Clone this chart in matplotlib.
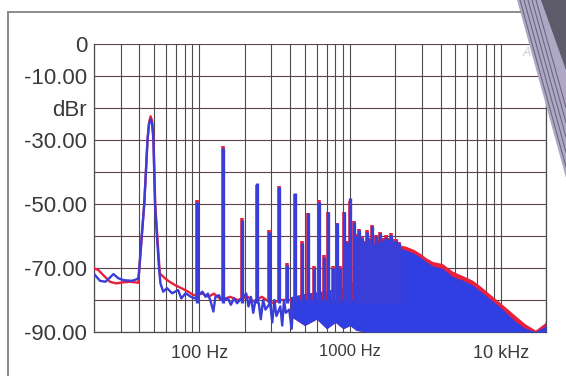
import matplotlib
matplotlib.use("Agg")
import matplotlib.pyplot as plt
from matplotlib.patches import Polygon

plt.rcParams['font.family'] = ['Liberation Sans', 'DejaVu Sans']

# low frequency part of the trace (Hz, dBr)
blue_lo_f = [20.3, 21.9, 23.8, 25.5, 26.9, 29.0, 31.5, 35.6, 38.0, 39.4,
             40.0, 41.5, 43.1, 44.2, 45.3, 46.4, 47.5, 48.6, 49.6, 50.2,
             50.8, 52.3, 54.0, 55.2, 57.6, 61.0, 66.0, 72.3, 76.0, 81.0,
             88.0, 93.0, 105, 110, 114, 119, 124, 128, 135, 140,
             155, 162, 170, 178, 186, 205, 212, 220, 228, 236,
             248, 256, 265, 275, 295, 305, 315, 325, 345, 355,
             365, 375, 395, 410, 420]
blue_lo_db = [-72.2, -74.0, -74.3, -73.0, -71.9, -73.2, -73.8, -74.0, -73.6, -73.2,
              -70.0, -60.0, -50.0, -40.0, -30.0, -25.0, -23.5, -25.0, -30.0, -40.0,
              -50.0, -60.0, -70.0, -74.8, -77.4, -76.3, -77.9, -76.9, -79.5, -77.9,
              -79.0, -79.5, -77.4, -79.0, -78.0, -80.5, -83.6, -79.0, -78.5, -80.0,
              -79.5, -81.5, -79.5, -81.0, -80.0, -78.0, -82.0, -79.0, -84.0, -80.0,
              -81.0, -86.0, -80.0, -83.0, -81.0, -87.0, -80.0, -85.0, -82.0, -88.0,
              -80.0, -84.0, -83.0, -89.0, -81.0]

red_lo_f = [20.0, 21.3, 23.6, 25.5, 28.0, 31.0, 34.6, 39.4, 40.0, 41.5,
            43.1, 44.2, 45.3, 46.4, 47.5, 48.6, 49.6, 50.3, 51.0, 52.6,
            54.7, 59.1, 63.5, 68.7, 76.1, 84.3, 92.0, 105, 115, 125,
            140, 160, 180, 210, 230, 260, 300, 350, 400]
red_lo_db = [-70.1, -70.6, -72.7, -74.3, -74.8, -74.5, -74.3, -74.6, -70.0, -60.0,
             -50.0, -40.0, -30.0, -24.5, -22.6, -24.0, -29.0, -40.0, -50.0, -60.0,
             -71.7, -73.2, -74.3, -75.3, -76.3, -77.4, -78.5, -78.0, -79.0, -78.0,
             -80.0, -79.0, -80.0, -79.0, -80.5, -79.0, -81.0, -80.0, -80.0]

# harmonics of the 48 Hz tone (n, blue level, red level)
harm_n = [2, 3, 4, 5, 6, 7, 8, 9, 10, 11, 12, 13, 14, 15, 16, 17, 18, 19, 20,
          21, 22, 23, 24, 25, 26, 27, 28, 29, 30, 31, 32, 33, 34, 35, 36, 37,
          38, 39, 40, 42, 44]
harm_blue = [-49.5, -32.5, -55.0, -43.5, -58.6, -44.6, -69.0, -46.7, -62.2, -52.7,
             -70.0, -49.5, -66.5, -52.6, -70.0, -56.0, -70.0, -52.6, -62.0,
             -48.2, -55.5, -60.0, -58.1, -60.7, -62.0, -58.6, -61.0, -57.0, -62.5,
             -60.0, -61.8, -59.2, -61.5, -61.0, -60.2, -61.0, -61.5, -59.7, -61.5,
             -61.3, -62.3]
harm_red = [-48.8, -32.0, -54.5, -44.0, -58.2, -44.4, -68.4, -47.0, -61.6, -52.8,
            -69.4, -48.8, -65.8, -52.6, -69.4, -55.8, -69.5, -52.4, -61.5,
            -49.0, -55.3, -59.5, -57.8, -60.3, -61.5, -58.2, -60.5, -56.6, -62.0,
            -59.6, -61.3, -58.8, -61.0, -60.5, -59.8, -60.5, -61.0, -59.2, -61.0,
            -60.8, -61.8]
fund = 48.0

# dense noise band above ~400 Hz
band_f = [400, 500, 600, 700, 800, 900, 1000, 1100, 1270, 1450, 1650, 1850, 2000,
          2350, 2650, 2900, 3200, 3550, 4100, 4800, 5600, 6500, 7400, 8400, 9800,
          11000, 12600, 14500, 17000, 19600, 20000]
band_blue = [-79.0, -78.0, -77.5, -77.0, -76.5, -76.0, -75.0, -73.0, -69.6, -68.0,
             -66.5, -64.5, -63.3, -64.4, -65.4, -66.5, -68.0, -69.4, -70.1, -72.7,
             -73.8, -75.3, -77.4, -79.5, -82.0, -84.2, -86.8, -88.8, -89.9, -88.3,
             -87.5]
band_red = [-79.0, -78.0, -77.5, -77.0, -76.5, -76.0, -75.0, -72.5, -69.0, -67.0,
            -65.5, -63.5, -62.5, -63.2, -64.2, -65.3, -66.8, -68.0, -68.6, -71.0,
            -72.4, -73.8, -75.8, -78.0, -80.6, -82.6, -85.0, -87.4, -89.4, -87.2,
            -86.0]
band_floor = [-85.0, -88.0, -86.0, -89.0, -87.0, -89.0, -88.0, -89.5, -90.0, -90.0,
              -90.0, -90.0, -90.0, -90.0, -90.0, -90.0, -90.0, -90.0, -90.0, -90.0,
              -90.0, -90.0, -90.0, -90.0, -90.0, -90.0, -90.0, -90.0, -90.0, -90.0,
              -90.0]

grid_f = [20, 30, 40, 50, 60, 70, 80, 90, 100, 200, 300, 400, 500, 600, 700, 800,
          900, 1000, 2000, 3000, 4000, 5000, 6000, 7000, 8000, 9000, 10000, 20000]
grid_db = [0, -10, -20, -30, -40, -50, -60, -70, -80, -90]
ytick_vals = [0, -10, -20, -30, -50, -70, -90]
ytick_labels = ["0", "-10.00", "dBr", "-30.00", "-50.00", "-70.00", "-90.00"]
xtick_vals = [100, 1000, 10000]
xtick_labels = ["100 Hz", "1000 Hz", "10 kHz"]

RED = '#e8203c'
BLUE = '#3a3ed8'
BLUE_FILL = '#2f3fe2'

fig = plt.figure(figsize=(5.66, 3.76), dpi=100)
ax = fig.add_axes([94 / 566, 1 - 332 / 376, 452 / 566, 288 / 376])

ax.set_xscale('log')
ax.set_xlim(20, 20000)
ax.set_ylim(-90, 0)

# grid
for f in grid_f:
    ax.axvline(f, color='#4c4c4c', lw=0.8, zorder=1)
for d in grid_db:
    ax.axhline(d, color='#5e4448', lw=0.8, zorder=1)

# noise band
ax.fill_between(band_f, band_floor, band_red, color=RED, lw=0, zorder=2)
ax.fill_between(band_f, band_floor, band_blue, color=BLUE_FILL, lw=0, zorder=3)

# low freq traces
ax.plot(red_lo_f, red_lo_db, color=RED, lw=1.7, zorder=4)
ax.plot(blue_lo_f, blue_lo_db, color=BLUE, lw=1.7, zorder=5)

# harmonics
harm_f = [fund * n for n in harm_n]
ax.vlines(harm_f, -80, harm_red, color=RED, lw=2.6, zorder=4)
ax.vlines(harm_f, -81, harm_blue, color=BLUE, lw=2.4, zorder=5)

ax.set_yticks(ytick_vals)
ax.set_yticklabels(ytick_labels, fontsize=16, color='#3a3a3a')
ax.set_xticks(xtick_vals)
ax.set_xticklabels(xtick_labels, color='#3a3a3a')
ax.minorticks_off()
for lab, fs in zip(ax.get_xticklabels(), [13, 12, 13]):
    lab.set_fontsize(fs)
ax.tick_params(axis='both', which='both', length=0)
ax.tick_params(axis='y', pad=5)
ax.tick_params(axis='x', pad=9)

for side in ['left', 'right', 'bottom']:
    ax.spines[side].set_color('#4c4c4c')
    ax.spines[side].set_linewidth(0.9)
ax.spines['top'].set_visible(False)

# panel frame and the device edge in the photo
over = fig.add_axes([0, 0, 1, 1], zorder=10)
over.set_xlim(0, 566)
over.set_ylim(376, 0)
over.axis('off')
over.plot([8, 8], [12, 376], color='#8a8a8a', lw=1.4)
over.plot([8, 520], [12, 12], color='#8a8a8a', lw=1.4)
over.add_patch(Polygon([(517, 0), (566, 0), (566, 178)], color='#aea8c4', lw=0))
over.add_patch(Polygon([(541, 0), (566, 0), (566, 70)], color='#5d5a6a', lw=0))
for off in [3, 7, 11, 15, 19]:
    over.plot([517 + off, 566], [0, 178 - off * 3.7], color='#6c6884', lw=0.8)
over.text(527, 53, "A", fontsize=9, color='#cfcfcf', ha='center', va='center',
          style='italic')

fig.savefig('out.png', dpi=100)
